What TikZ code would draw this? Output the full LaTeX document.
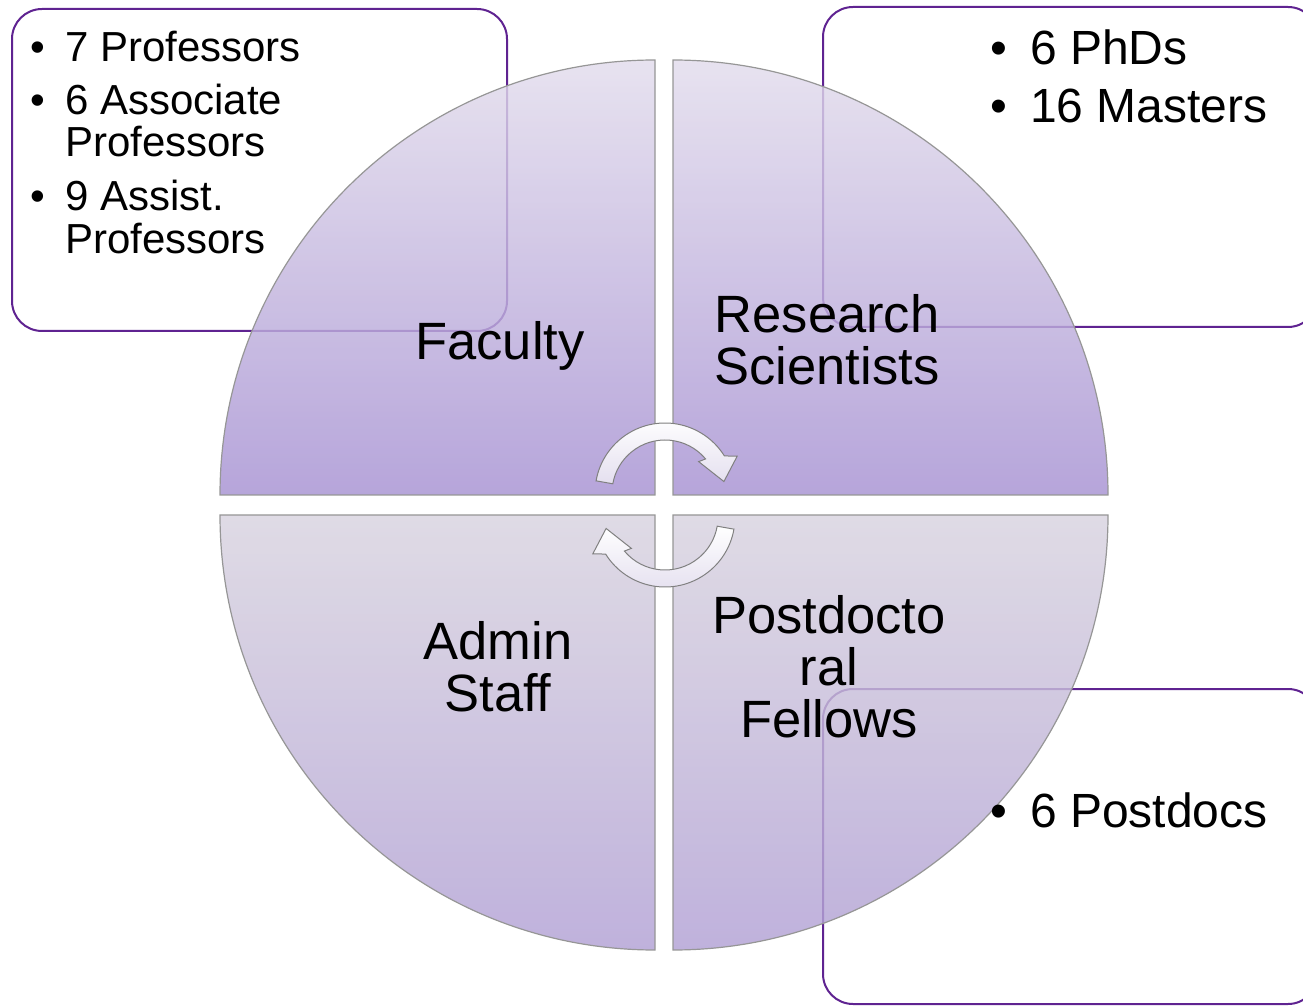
\documentclass[tikz,border=0pt]{standalone}
\usepackage{fontspec}
\setmainfont{Liberation Sans}
\usetikzlibrary{positioning}

\definecolor{boxline}{RGB}{95,35,145}
\definecolor{rimgrey}{RGB}{150,150,150}
\definecolor{uptop}{RGB}{226,220,236}
\definecolor{upbot}{RGB}{166,145,210}
\definecolor{lowtop}{RGB}{216,211,223}
\definecolor{lowbot}{RGB}{177,160,212}
\definecolor{arrowfill}{RGB}{228,223,239}

\newcommand{\bul}{\makebox[0.83em][l]{•}}
\newcommand{\ind}{\hspace*{0.83em}}

\begin{document}
\begin{tikzpicture}[x=1pt,y=1pt,
        infobox/.style={draw=boxline,line width=2pt,rounded corners=30pt,fill=white,anchor=north west},
        quarter/.style={draw=rimgrey,line width=1.2pt,fill opacity=0.82},
        upper/.style={quarter,top color=uptop,bottom color=upbot},
        lower/.style={quarter,top color=lowtop,bottom color=lowbot},
        looparrow/.style={draw=gray,line width=1pt,top color=white,bottom color=arrowfill},
        parttext/.style={font=\fontsize{52.5}{52}\selectfont,align=center,inner sep=0pt},
        facline/.style={font=\fontsize{42}{43}\selectfont,anchor=base west,inner sep=0pt},
        bigline/.style={font=\fontsize{48}{57}\selectfont,anchor=base west,inner sep=0pt}]

    \useasboundingbox (0,0) rectangle (1303,1005);
    \clip (0,0) rectangle (1303,1005);

    % boxes behind the circle
    \node[infobox,minimum width=495pt,minimum height=322pt] (facbox) at (11,997) {};
    \node[infobox,minimum width=495pt,minimum height=320pt] (resbox) at (822,999) {};
    \node[infobox,minimum width=495pt,minimum height=315pt] (pdbox) at (822,317) {};

    % four quarters
    \path[upper] (655,510) -- ++(-435,0) arc[start angle=180,end angle=90,radius=435] -- cycle;
    \path[upper] (673,510) -- ++(0,435) arc[start angle=90,end angle=0,radius=435] -- cycle;
    \path[lower] (655,490) -- ++(0,-435) arc[start angle=270,end angle=180,radius=435] -- cycle;
    \path[lower] (673,490) -- ++(435,0) arc[start angle=0,end angle=-90,radius=435] -- cycle;

    % cycle arrows
    \begin{scope}[shift={(665,512)}]
        \path[looparrow] (170:70) arc[start angle=170,end angle=32,radius=70] -- (27:81) -- (11:60)
            -- (43:46) -- (40:53) arc[start angle=40,end angle=170,radius=53] -- cycle;
    \end{scope}
    \begin{scope}[shift={(665,488)},rotate=180]
        \path[looparrow] (170:70) arc[start angle=170,end angle=32,radius=70] -- (27:81) -- (11:60)
            -- (43:46) -- (40:53) arc[start angle=40,end angle=170,radius=53] -- cycle;
    \end{scope}

    \node[parttext] (faculty) at (500,659) {Faculty};
    \node[parttext] (research) at (827,665) {Research\\Scientists};
    \node[parttext] (admin) at (498,338) {Admin\\Staff};
    \node[parttext] (postdoc) at (829,338) {Postdocto\\ral\\Fellows};

    % bullet lists
    \foreach \ty/\tx [count=\i] in {62/{\bul 7 Professors},115/{\bul 6 Associate},157/{\ind Professors},
            211/{\bul 9 Assist.},254/{\ind Professors}}
        \node[facline] (fac\i) at (30,1005-\ty) {\tx};
    \node[bigline] (phd) at (990,940) {\bul 6 PhDs};
    \node[bigline] (masters) at (990,882) {\bul 16 Masters};
    \node[bigline] (postdocs) at (990,178) {\bul 6 Postdocs};
\end{tikzpicture}
\end{document}
